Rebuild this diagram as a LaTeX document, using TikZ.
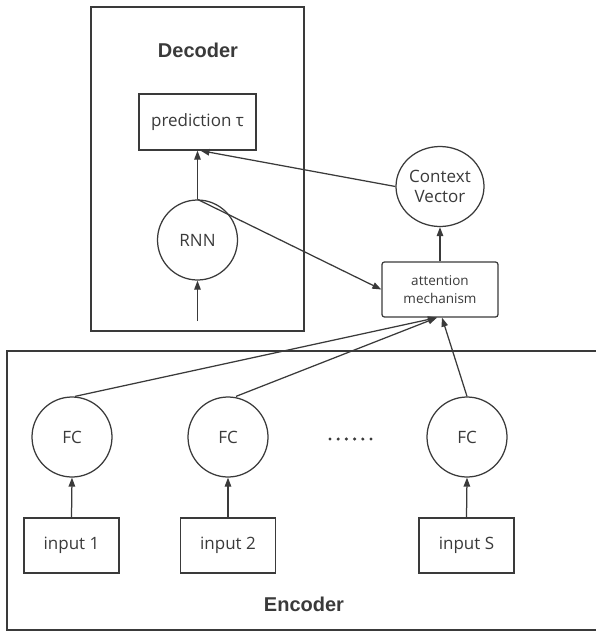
\documentclass[tikz,border=0pt]{standalone}
\usepackage{fontspec}
\setmainfont{Open Sans}
\newfontfamily\headfont{Liberation Sans}
\usetikzlibrary{arrows.meta,shapes.geometric}
\definecolor{ink}{HTML}{3A3A3A}
\tikzset{
  line/.style={draw=ink, line width=1.25pt},
  arr/.style={line, -{Triangle[length=9pt,width=6.5pt]}},
  framebox/.style={line, line width=1.35pt},
  unitbox/.style={line, rectangle, minimum width=95pt, minimum height=55pt,
    inner sep=0pt, font=\fontsize{17}{20}\selectfont, text=ink},
  unitcirc/.style={line, circle, minimum size=80pt, inner sep=0pt,
    font=\fontsize{17}{20}\selectfont, text=ink},
  heading/.style={font=\headfont\bfseries\fontsize{20}{24}\selectfont, text=ink},
}
\begin{document}
\begin{tikzpicture}[x=1pt,y=-1pt]
\useasboundingbox (0,0) rectangle (596,632);

% Decoder frame
\draw[framebox] (91,7) rectangle (304,331);
\node[heading] (dechead) at (198,50) {Decoder};
\node[unitbox, minimum width=117pt, minimum height=56pt] (pred) at (197.5,122) {prediction τ};
\node[unitcirc] (rnn) at (197.5,240) {RNN};
\coordinate (rnnin) at (197.5,321);

% Encoder frame (open to the right)
\draw[framebox] (600,351) -- (7,351) -- (7,630) -- (600,630);
\node[heading] (enchead) at (304,604) {Encoder};

% Attention and context
\node[unitbox, minimum width=116pt, minimum height=55pt, rounded corners=2.5pt,
      font=\fontsize{13.5}{18}\selectfont, align=center] (att) at (440,289.5)
      {attention\\mechanism};
\node[line, ellipse, minimum width=88pt, minimum height=80pt, inner sep=0pt,
      font=\fontsize{17}{20}\selectfont, text=ink, align=center] (ctx) at (440,186.5)
      {Context\\Vector};

% Encoder units
\node[unitcirc] (fc1) at (72,437) {FC};
\node[unitcirc] (fc2) at (228,437) {FC};
\node[unitcirc] (fcs) at (467,437) {FC};
\node[unitbox] (in1) at (71.5,545.5) {input 1};
\node[unitbox] (in2) at (228,545.5) {input 2};
\node[unitbox] (ins) at (466.5,545.5) {input S};
\foreach \i in {0,...,5}
  \fill[ink] (330+\i*8.2,439) circle (1.7pt);

% Connectors
\draw[arr] (rnnin) -- (rnn.south);
\draw[arr] (rnn.north) -- (pred.south);
\draw[arr] (rnn.north) -- (att.west);
\draw[arr] (ctx.west) -- ([xshift=3pt]pred.south);
\draw[arr] (att.north) -- (ctx.south);
\draw[arr] (in1.north) -- (fc1.south);
\draw[arr] (in2.north) -- (fc2.south);
\draw[arr] (ins.north) -- (fcs.south);
\draw[arr] ([xshift=3pt]fc1.north) -- ([xshift=-3pt]att.south);
\draw[arr] ([xshift=8pt]fc2.north) -- ([xshift=-3pt]att.south);
\draw[arr] (fcs.north) -- ([xshift=2pt]att.south);
\end{tikzpicture}
\end{document}
